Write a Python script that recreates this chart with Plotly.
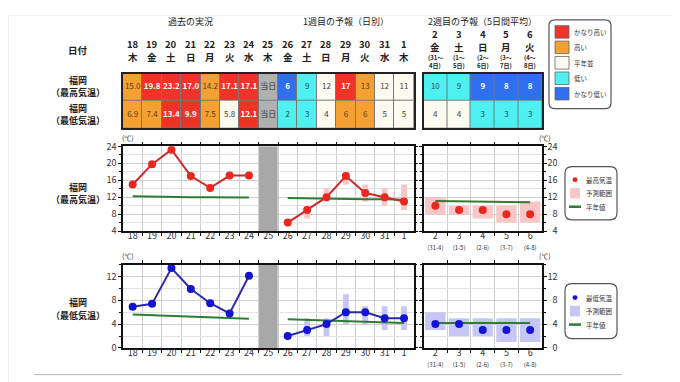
import plotly.graph_objects as go

# ---------------- data ----------------
dates_left = ["18", "19", "20", "21", "22", "23", "24", "25", "26", "27", "28", "29", "30", "31", "1"]
weekdays_left = ["木", "金", "土", "日", "月", "火", "水", "木", "金", "土", "日", "月", "火", "水", "木"]
dates_right = ["2", "3", "4", "5", "6"]
weekdays_right = ["金", "土", "日", "月", "火"]
period_right_a = ["(31～", "(1～", "(2～", "(3～", "(4～"]
period_right_b = ["4日)", "5日)", "6日)", "7日)", "8日)"]
period_right_tick = ["(31-4)", "(1-5)", "(2-6)", "(3-7)", "(4-8)"]

max_obs = [15.0, 19.8, 23.2, 17.0, 14.2, 17.1, 17.1]
min_obs = [6.9, 7.4, 13.4, 9.9, 7.5, 5.8, 12.1]
max_fc1 = [6, 9, 12, 17, 13, 12, 11]
max_fc1_low = [None, 7, 11, 15, 11, 10, 9]
max_fc1_high = [None, 10, 14, 18, 15, 14, 15]
min_fc1 = [2, 3, 4, 6, 6, 5, 5]
min_fc1_low = [None, 2, 2, 4, 4, 3, 3]
min_fc1_high = [None, 5, 5, 9, 7, 7, 7]
max_fc2 = [10, 9, 9, 8, 8]
max_fc2_low = [8, 8, 7, 6, 6]
max_fc2_high = [12, 10, 10, 10, 11]
min_fc2 = [4, 4, 3, 3, 3]
min_fc2_low = [3, 2, 2, 1, 1]
min_fc2_high = [6, 5, 5, 5, 5]
normal_max_obs = [12.2, 12.1, 12.1, 12.0, 12.0, 11.9, 11.9]
normal_max_fc1 = [11.8, 11.7, 11.7, 11.6, 11.5, 11.5, 11.4]
normal_max_fc2 = [11.1, 11.0, 10.9, 10.9, 10.8]
normal_min_obs = [5.6, 5.5, 5.4, 5.3, 5.2, 5.0, 4.9]
normal_min_fc1 = [4.8, 4.7, 4.6, 4.5, 4.4, 4.3, 4.2]
normal_min_fc2 = [4.2, 4.2, 4.2, 4.2, 4.2]

max_class_left = [3, 4, 4, 4, 3, 4, 4, 5, 0, 1, 2, 4, 3, 2, 2]
min_class_left = [3, 3, 4, 4, 3, 2, 4, 5, 1, 1, 2, 3, 3, 2, 2]
max_class_right = [1, 1, 0, 0, 0]
min_class_right = [2, 2, 1, 1, 1]
class_names = ["かなり低い", "低い", "平年並", "高い", "かなり高い"]
today_label = "当日"
today_index = 7
top_ticks = [4, 8, 12, 16, 20, 24]
bot_ticks = [0, 4, 8, 12]

# ---------------- style ----------------
W, H = 680, 382
FONT = "Noto Sans CJK JP"
class_colors = ["#2f6ff0", "#4ff0f2", "#fdfbef", "#f5a033", "#ee3427", "#b0b0b0"]
class_text = ["white", "#2a4a50", "#444444", "#5a4020", "white", "#333333"]
RED_LINE, RED_MK = "#cc2b2b", "#e8281e"
BLUE_LINE, BLUE_MK = "#2a2aa8", "#1414d2"
PINK, LAV = "#f8c6c6", "#c6c6f5"
GREEN = "#2e7d32"
GRID = "#cfcfcf"
INK = "#111111"


def fx(p):
    return p / W


def fy(p):
    return 1 - p / H


X_LEFT = [fx(115), fx(405.7)]
X_RIGHT = [fx(415.5), fx(534)]
X_RLABEL = [fx(550.5), fx(552)]
Y_TABLE = [fy(117.3), fy(60.7)]
Y_TOP = [fy(223.7), fy(136)]
Y_BOT = [fy(344.7), fy(258.3)]
TOP_RANGE = [4, 24]
BOT_RANGE = [0, 14]

fig = go.Figure()

idx_left = list(range(len(dates_left)))
idx_right = list(range(len(dates_right)))
idx_obs = idx_left[:7]
idx_fc1 = idx_left[8:]


def fmt_obs(v):
    return f"{v:.1f}"


n = len(class_colors)
cs = []
for i, c in enumerate(class_colors):
    cs.append([i / n, c])
    cs.append([(i + 1) / n, c])

txt_max_left = [fmt_obs(v) for v in max_obs] + [today_label] + [str(v) for v in max_fc1]
txt_min_left = [fmt_obs(v) for v in min_obs] + [today_label] + [str(v) for v in min_fc1]
txt_max_right = [str(v) for v in max_fc2]
txt_min_right = [str(v) for v in min_fc2]

for (xa, ya, zrows, trows, xs) in [
    ("x", "y", [max_class_left, min_class_left], [txt_max_left, txt_min_left], idx_left),
    ("x2", "y2", [max_class_right, min_class_right], [txt_max_right, txt_min_right], idx_right),
]:
    fig.add_trace(go.Heatmap(z=zrows, x=xs, y=[0, 1], colorscale=cs, zmin=-0.5, zmax=n - 0.5,
                             showscale=False, xgap=1, ygap=1, hoverinfo="skip",
                             xaxis=xa, yaxis=ya))
    tx, ty, tt, tc = [], [], [], []
    for r, (zr, trow) in enumerate(zip(zrows, trows)):
        for c, (zv, t) in enumerate(zip(zr, trow)):
            tx.append(xs[c]); ty.append(r); tt.append(f"<b>{t}</b>" if zv in (0, 4) else t)
            tc.append(class_text[zv])
    fig.add_trace(go.Scatter(x=tx, y=ty, text=tt, mode="text",
                             textfont=dict(color=tc, size=8, family=FONT),
                             hoverinfo="skip", showlegend=False, xaxis=xa, yaxis=ya))


def add_panel(xl, yl, xr, yr, ylab_r, yrange, obs, fc1, fc1_lo, fc1_hi, fc2, fc2_lo, fc2_hi,
              n_obs, n_fc1, n_fc2, lc, mc, band):
    fig.add_trace(go.Bar(x=[today_index], y=[yrange[1] - yrange[0]], base=[yrange[0]], width=0.96,
                         marker=dict(color="#a8a8a8", line=dict(width=0)), hoverinfo="skip",
                         showlegend=False, xaxis=xl, yaxis=yl))
    bx, bb, bh = [], [], []
    for i, lo, hi in zip(idx_fc1, fc1_lo, fc1_hi):
        if lo is not None:
            bx.append(i); bb.append(lo); bh.append(hi - lo)
    fig.add_trace(go.Bar(x=bx, y=bh, base=bb, width=0.3, marker=dict(color=band, line=dict(width=0)),
                         hoverinfo="skip", showlegend=False, xaxis=xl, yaxis=yl))
    fig.add_trace(go.Bar(x=idx_right, y=[h - l for l, h in zip(fc2_lo, fc2_hi)], base=fc2_lo, width=0.86,
                         marker=dict(color=band, line=dict(width=0)),
                         hoverinfo="skip", showlegend=False, xaxis=xr, yaxis=yr))
    for xs, ys, xa, ya in [(idx_obs, n_obs, xl, yl), (idx_fc1, n_fc1, xl, yl), (idx_right, n_fc2, xr, yr)]:
        fig.add_trace(go.Scatter(x=xs, y=ys, mode="lines", line=dict(color=GREEN, width=2),
                                 hoverinfo="skip", showlegend=False, xaxis=xa, yaxis=ya))
    for xs, ys in [(idx_obs, obs), (idx_fc1, fc1)]:
        fig.add_trace(go.Scatter(x=xs, y=ys, mode="lines+markers", line=dict(color=lc, width=2),
                                 marker=dict(color=mc, size=8), hoverinfo="skip", showlegend=False,
                                 xaxis=xl, yaxis=yl))
    fig.add_trace(go.Scatter(x=idx_right, y=fc2, mode="markers", marker=dict(color=mc, size=8),
                             hoverinfo="skip", showlegend=False, xaxis=xr, yaxis=yr))
    # invisible companion trace so the right-hand label axis is instantiated
    fig.add_trace(go.Scatter(x=idx_right, y=fc2, mode="markers", marker=dict(opacity=0),
                             hoverinfo="skip", showlegend=False, xaxis="x7", yaxis=ylab_r))


add_panel("x3", "y3", "x4", "y4", "y7", TOP_RANGE, max_obs, max_fc1, max_fc1_low, max_fc1_high,
          max_fc2, max_fc2_low, max_fc2_high, normal_max_obs, normal_max_fc1, normal_max_fc2,
          RED_LINE, RED_MK, PINK)
add_panel("x5", "y5", "x6", "y6", "y8", BOT_RANGE, min_obs, min_fc1, min_fc1_low, min_fc1_high,
          min_fc2, min_fc2_low, min_fc2_high, normal_min_obs, normal_min_fc1, normal_min_fc2,
          BLUE_LINE, BLUE_MK, LAV)

tickfont = dict(family=FONT, size=9, color="#333333")
table_ax = dict(showline=True, linecolor="#222222", linewidth=1.5, mirror=True, showgrid=False,
                zeroline=False, showticklabels=False, ticks="", fixedrange=True)


def xcat(domain, n, ticktext, anchor):
    return dict(domain=domain, range=[-0.5, n - 0.5], anchor=anchor, tickvals=list(range(n)),
                ticktext=ticktext, ticks="", ticklen=0, showgrid=False, tickfont=tickfont,
                ticklabelstandoff=-5,
                minor=dict(tickvals=[i + 0.5 for i in range(n - 1)], ticks="outside", ticklen=3,
                           tickcolor=INK, showgrid=True, gridcolor=GRID, gridwidth=1),
                showline=True, linecolor=INK, linewidth=1.5, mirror="ticks", zeroline=False)


def yframe(domain, rng, tv, anchor, labels):
    return dict(domain=domain, range=rng, anchor=anchor, side="left", tickvals=tv, ticks="outside",
                ticklen=3, tickcolor=INK, showgrid=True, gridcolor=GRID, showticklabels=labels,
                tickfont=tickfont,
                minor=dict(dtick=2, showgrid=True, gridcolor="#e2e2e2", ticks="outside", ticklen=2,
                           tickcolor=INK),
                showline=True, linecolor=INK, linewidth=1.5, mirror="ticks", zeroline=False)


def ylabels(domain, rng, tv):
    return dict(domain=domain, anchor="x7", side="left", range=rng, tickvals=tv, ticks="",
                showgrid=False, showline=False, zeroline=False, tickfont=tickfont)


right_ticktext = [f"{d}<br><span style='font-size:6px'>{p}</span>" for d, p in zip(dates_right, period_right_tick)]

fig.update_layout(
    xaxis=dict(domain=X_LEFT, range=[-0.5, len(dates_left) - 0.5], anchor="y", **table_ax),
    yaxis=dict(domain=Y_TABLE, range=[1.5, -0.5], anchor="x", **table_ax),
    xaxis2=dict(domain=X_RIGHT, range=[-0.5, len(dates_right) - 0.5], anchor="y2", **table_ax),
    yaxis2=dict(domain=Y_TABLE, range=[1.5, -0.5], anchor="x2", **table_ax),
    xaxis3=xcat(X_LEFT, len(dates_left), dates_left, "y3"),
    yaxis3=yframe(Y_TOP, TOP_RANGE, top_ticks, "x3", True),
    xaxis4=xcat(X_RIGHT, len(dates_right), right_ticktext, "y4"),
    yaxis4=yframe(Y_TOP, TOP_RANGE, top_ticks, "x4", False),
    xaxis5=xcat(X_LEFT, len(dates_left), dates_left, "y5"),
    yaxis5=yframe(Y_BOT, BOT_RANGE, bot_ticks, "x5", True),
    xaxis6=xcat(X_RIGHT, len(dates_right), right_ticktext, "y6"),
    yaxis6=yframe(Y_BOT, BOT_RANGE, bot_ticks, "x6", False),
    xaxis7=dict(domain=X_RLABEL, anchor="y8", range=[-0.5, len(dates_right) - 0.5], showline=False,
                showgrid=False, zeroline=False, showticklabels=False, ticks=""),
    yaxis7=ylabels(Y_TOP, TOP_RANGE, top_ticks),
    yaxis8=ylabels(Y_BOT, BOT_RANGE, bot_ticks),
)
fig.update_xaxes(tickangle=0)

ann = []
shapes = []


def text(x, y, s, size=9, color="#333333", xref="paper", xanchor="center", bold=False):
    ann.append(dict(x=x if xref != "paper" else fx(x), y=fy(y), xref=xref, yref="paper",
                    text=f"<b>{s}</b>" if bold else s, showarrow=False, xanchor=xanchor, yanchor="middle",
                    font=dict(family=FONT, size=size, color=color), borderpad=0))


for xa, ya in [("x", "y"), ("x2", "y2")]:
    shapes.append(dict(type="rect", xref=f"{xa} domain", yref=f"{ya} domain", x0=0, x1=1, y0=0, y1=1,
                       fillcolor="#777777", line=dict(width=0), layer="below"))

text(3, 6.5, "過去の実況", size=9, xref="x", color="#222222")
text(11, 6.5, "1週目の予報（日別）", size=9, xref="x", color="#222222")
text(2, 6.5, "2週目の予報（5日間平均）", size=9, xref="x2", color="#222222")

for i, (d, w) in enumerate(zip(dates_left, weekdays_left)):
    text(i, 30.5, d, size=9.5, xref="x", color="#222222", bold=True)
    text(i, 43.5, w, size=9.5, xref="x", color="#222222", bold=True)
for i, (d, w, a, b) in enumerate(zip(dates_right, weekdays_right, period_right_a, period_right_b)):
    text(i, 20, d, size=9.5, xref="x2", color="#222222", bold=True)
    text(i, 33, w, size=9.5, xref="x2", color="#222222", bold=True)
    text(i, 44, a, size=6, xref="x2", color="#222222", bold=True)
    text(i, 52.5, b, size=6, xref="x2", color="#222222", bold=True)

text(70, 36.5, "日付", size=9.5, color="#222222", bold=True)
for (y1, y2, lab) in [(68, 80, "（最高気温）"), (97, 109, "（最低気温）"), (178.5, 191, "（最高気温）"),
                      (298, 311, "（最低気温）")]:
    text(70, y1, "福岡", size=9, color="#222222", bold=True)
    text(70, y2, lab, size=9, color="#222222", bold=True)

for yy in (127.5, 249.5):
    text(120, yy, "(℃)", size=7, color="#333333")
    text(537, yy, "(℃)", size=7, color="#333333")


def rounded_box(x0, y0, x1, y1, r=5):
    a0, a1 = fx(x0), fx(x1)
    b0, b1 = fy(y0), fy(y1)
    rx, ry = r / W, r / H
    path = (f"M{a0+rx},{b0} L{a1-rx},{b0} Q{a1},{b0} {a1},{b0-ry} L{a1},{b1+ry} Q{a1},{b1} {a1-rx},{b1} "
            f"L{a0+rx},{b1} Q{a0},{b1} {a0},{b1+ry} L{a0},{b0-ry} Q{a0},{b0} {a0+rx},{b0} Z")
    shapes.append(dict(type="path", path=path, xref="paper", yref="paper",
                       line=dict(color="#555555", width=1.2), fillcolor="white"))


def rect(x0, y0, x1, y1, fill, line="#666666", lw=0.8):
    shapes.append(dict(type="rect", xref="paper", yref="paper", x0=fx(x0), x1=fx(x1), y0=fy(y1), y1=fy(y0),
                       fillcolor=fill, line=dict(color=line, width=lw)))


rounded_box(541, 5, 603, 97, r=6)
leg_rows = [(4, 11, 24), (3, 27, 40), (2, 43, 56), (1, 59, 72), (0, 75, 88)]
for cls, y0, y1 in leg_rows:
    rect(547, y0, 561, y1, class_colors[cls])
    text(565, (y0 + y1) / 2, class_names[cls], size=6.5, xanchor="left", color="#333333")

for (y0, y1, label, mk, band) in [(157, 212, "最高気温", RED_MK, PINK), (278, 335, "最低気温", BLUE_MK, LAV)]:
    rounded_box(557, y0, 609, y1, r=7)
    ym = (y0 + y1) / 2
    r1, r2, r3 = ym - 14, ym, ym + 14
    shapes.append(dict(type="circle", xref="paper", yref="paper", x0=fx(564.5), x1=fx(569.5),
                       y0=fy(r1 + 2.5), y1=fy(r1 - 2.5), fillcolor=mk, line=dict(width=0)))
    rect(562, r2 - 5.5, 572, r2 + 5.5, band, line=band, lw=0)
    shapes.append(dict(type="line", xref="paper", yref="paper", x0=fx(561), x1=fx(573), y0=fy(r3), y1=fy(r3),
                       line=dict(color=GREEN, width=2.5)))
    text(577, r1, label, size=6.5, xanchor="left")
    text(577, r2, "予測範囲", size=6.5, xanchor="left")
    text(577, r3, "平年値", size=6.5, xanchor="left")

shapes.append(dict(type="line", xref="paper", yref="paper", x0=fx(26), x1=fx(614), y0=fy(372.3), y1=fy(372.3),
                   line=dict(color="#b5b5b5", width=1)))
shapes.append(dict(type="rect", xref="paper", yref="paper", x0=fx(0.5), x1=fx(674), y0=fy(381.5), y1=fy(0.5),
                   line=dict(color="#eeeeee", width=1), fillcolor="rgba(0,0,0,0)"))

fig.update_layout(
    width=W, height=H, margin=dict(l=0, r=0, t=0, b=0),
    paper_bgcolor="white", plot_bgcolor="white",
    barmode="overlay", showlegend=False, hovermode=False,
    annotations=ann, shapes=shapes,
    font=dict(family=FONT, size=9, color="#333333"),
)

fig.write_html("out.html", config={"displayModeBar": False})
